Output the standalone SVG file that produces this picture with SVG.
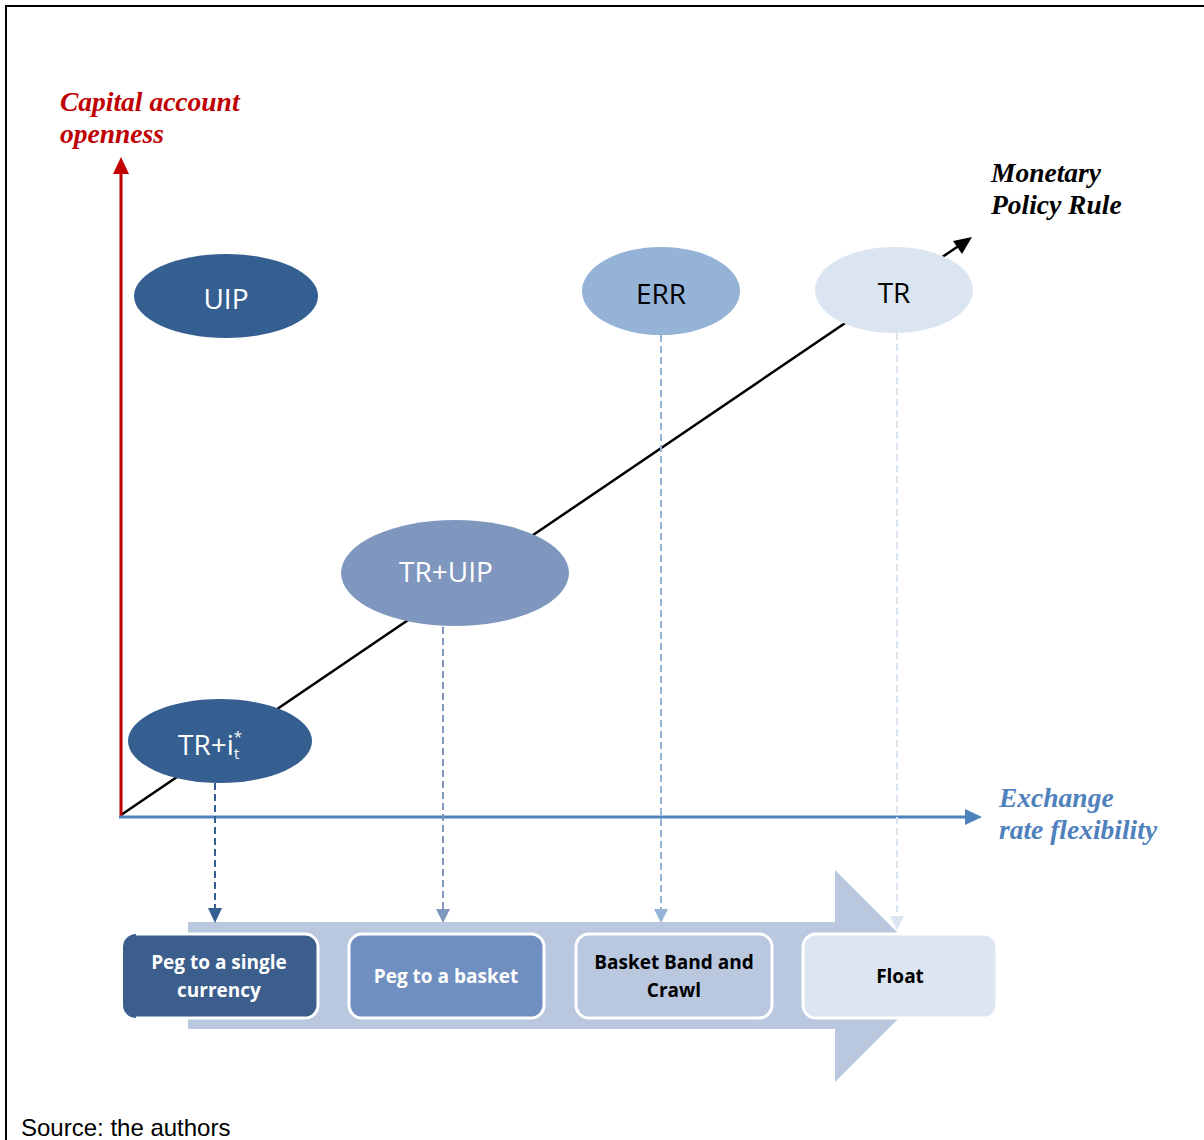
<svg xmlns="http://www.w3.org/2000/svg" width="1204" height="1140" viewBox="0 0 1204 1140">
<style>
.ttl{font-family:"Liberation Serif",serif;font-weight:bold;font-style:italic;font-size:27.5px}
.el{font-family:"Open Sans","Noto Sans",sans-serif;font-size:28px;text-anchor:middle}
.bx{font-family:"Open Sans","Noto Sans",sans-serif;font-weight:bold;font-size:19px;text-anchor:middle}
.box{stroke:#fff;stroke-width:3}
.dash{stroke-width:2;stroke-dasharray:7 4;fill:none}
</style>
<rect width="1204" height="1140" fill="#fff"/>
<rect x="6" y="6" width="1220" height="1160" fill="none" stroke="#000" stroke-width="2"/>

<g id="progress-arrow">
<path d="M188,922 H835 V870 L941,976 L835,1082 V1029 H188 Z" fill="#B9C7DF"/>
</g>

<g id="connectors">
<line x1="121" y1="815" x2="960" y2="245" stroke="#000" stroke-width="2.5"/>
<path d="M972,237 L962,254 L953,241 Z" fill="#000"/>
<line x1="121" y1="817" x2="121" y2="172" stroke="#C00000" stroke-width="3"/>
<path d="M121,157 L129,174 L113,174 Z" fill="#C00000"/>
<line x1="119" y1="817" x2="966" y2="817" stroke="#4F81BD" stroke-width="3"/>
<path d="M982,817 L965,809 L965,825 Z" fill="#4F81BD"/>
<line class="dash" x1="215" y1="783" x2="215" y2="910" stroke="#365F91"/>
<path d="M215,923 L208,908 L222,908 Z" fill="#365F91"/>
<line class="dash" x1="443" y1="627" x2="443" y2="910" stroke="#7F97BF"/>
<path d="M443,923 L436,909 L450,909 Z" fill="#7F97BF"/>
<line class="dash" x1="661" y1="335" x2="661" y2="910" stroke="#95B3D7"/>
<path d="M661,923 L654,909 L668,909 Z" fill="#95B3D7"/>
<line class="dash" x1="897" y1="333" x2="897" y2="917" stroke="#DBE5F1"/>
<path d="M897,930 L890,916 L904,916 Z" fill="#DBE5F1"/>
</g>

<g id="uip"><ellipse cx="226" cy="296" rx="92" ry="42" fill="#365F91"/><text class="el" x="226" y="309" fill="#fff">UIP</text></g>
<g id="err"><ellipse cx="661" cy="291" rx="79" ry="44" fill="#95B3D7"/><text class="el" x="661" y="304" fill="#000">ERR</text></g>
<g id="tr"><ellipse cx="894" cy="290" rx="79" ry="43" fill="#DBE5F1"/><text class="el" x="894" y="303" fill="#000">TR</text></g>
<g id="tr-uip"><ellipse cx="455" cy="573" rx="114" ry="53" fill="#7F97BF"/><text class="el" x="446" y="582" fill="#fff">TR+UIP</text></g>
<g id="tr-i"><ellipse cx="220" cy="741" rx="92" ry="42" fill="#365F91"/>
<text x="178" y="755" fill="#fff" font-family="Open Sans,Noto Sans,sans-serif" font-size="28">TR+i<tspan dy="-13" font-size="15">*</tspan><tspan dx="-8" dy="17" font-size="15">t</tspan></text>
</g>

<g id="box-single"><rect x="123" y="934" width="195" height="84" rx="13" fill="#3B5E8C"/><path d="M136,934 H305 A13,13 0 0 1 318,947 V1005 A13,13 0 0 1 305,1018 H136" fill="none" stroke="#fff" stroke-width="3"/>
<text class="bx" x="219" y="969" fill="#fff">Peg to a single</text><text class="bx" x="219" y="997" fill="#fff">currency</text></g>
<g id="box-basket"><rect class="box" x="349" y="934" width="195" height="84" rx="13" fill="#6F8FC0"/><text class="bx" x="446" y="983" fill="#fff">Peg to a basket</text></g>
<g id="box-band"><rect class="box" x="576" y="934" width="196" height="84" rx="13" fill="#B9C7DF"/><text class="bx" x="674" y="969" fill="#000">Basket Band and</text><text class="bx" x="674" y="997" fill="#000">Crawl</text></g>
<g id="box-float"><rect class="box" x="803" y="934" width="194" height="84" rx="13" fill="#DCE5F1"/><text class="bx" x="900" y="983" fill="#000">Float</text></g>

<g id="labels">
<text class="ttl" x="60" y="111" fill="#C00000">Capital account</text>
<text class="ttl" x="60" y="143" fill="#C00000">openness</text>
<text class="ttl" x="991" y="182" fill="#000">Monetary</text>
<text class="ttl" x="991" y="214" fill="#000">Policy Rule</text>
<text class="ttl" x="999" y="807" fill="#4F81BD">Exchange</text>
<text class="ttl" x="999" y="839" fill="#4F81BD">rate flexibility</text>
<text x="21" y="1136" font-family="Liberation Sans,Arial,sans-serif" font-size="24" fill="#000">Source: the authors</text>
</g>
</svg>
